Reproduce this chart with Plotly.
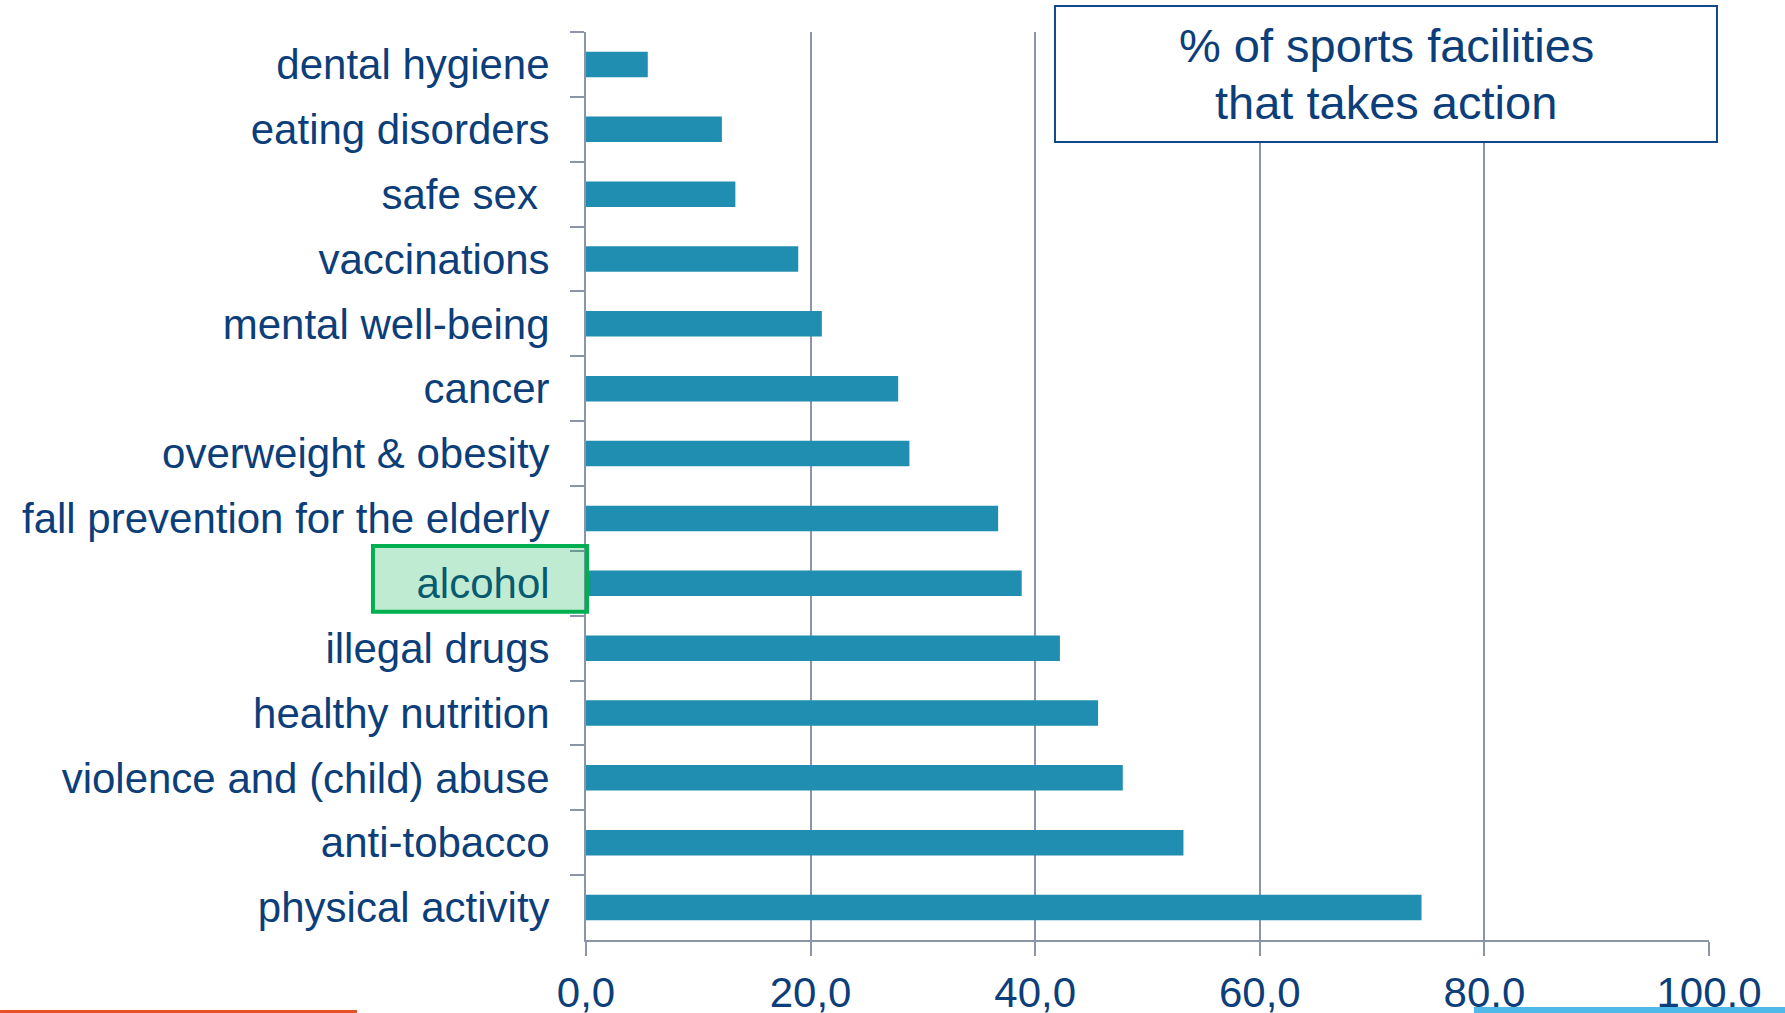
import plotly.graph_objects as go

# Health topics, listed top to bottom as shown on the chart
topics = [
    "dental hygiene",
    "eating disorders",
    "safe sex\u00a0",
    "vaccinations",
    "mental well-being",
    "cancer",
    "overweight & obesity",
    "fall prevention for the elderly",
    "alcohol",
    "illegal drugs",
    "healthy nutrition",
    "violence and (child) abuse",
    "anti-tobacco",
    "physical activity",
]
# Share of sports facilities that take action on each topic (%)
share_pct = [5.5, 12.1, 13.3, 18.9, 21.0, 27.8, 28.8, 36.7, 38.8, 42.2, 45.6, 47.8, 53.2, 74.4]

x_ticks = [0, 20, 40, 60, 80, 100]
highlight_topic = "alcohol"
title_lines = ["% of sports facilities", "that takes action"]

NAVY = "#0C3E7A"
GRID = "#8C94A8"
BAR = "#1F8EB0"
FONT = "Arial, 'Liberation Sans', sans-serif"

fig = go.Figure(
    go.Bar(
        x=share_pct,
        y=topics,
        orientation="h",
        marker=dict(color=BAR, line=dict(width=0)),
        hoverinfo="skip",
    )
)

fig.update_layout(
    width=1785,
    height=1013,
    margin=dict(l=586, r=76, t=32, b=73, autoexpand=False),
    paper_bgcolor="white",
    plot_bgcolor="white",
    bargap=0.607,
    separators=",.",
    showlegend=False,
    font=dict(family=FONT, color=NAVY, size=42),
)

fig.update_xaxes(
    range=[0, 100],
    tickvals=x_ticks,
    tickformat=".1f",
    automargin=False,
    showgrid=True,
    gridcolor=GRID,
    gridwidth=2,
    zeroline=False,
    showline=True,
    linecolor=GRID,
    linewidth=2,
    ticks="outside",
    ticklen=14,
    tickwidth=2,
    tickcolor=GRID,
    tickfont=dict(size=42, color=NAVY),
    ticklabelstandoff=1,
)

fig.update_yaxes(
    type="category",
    categoryorder="array",
    categoryarray=topics,
    autorange="reversed",
    automargin=False,
    showgrid=False,
    zeroline=False,
    showline=True,
    linecolor=GRID,
    linewidth=2,
    ticks="outside",
    tickson="boundaries",
    ticklen=14,
    tickwidth=2,
    tickcolor=GRID,
    tickfont=dict(size=42, color=NAVY),
    ticklabelstandoff=26,
)

# Title box in the upper right corner
fig.add_shape(
    type="rect", xref="paper", yref="paper",
    x0=0.4176, x1=1.0071, y0=0.8789, y1=1.0286,
    fillcolor="white", line=dict(color="#124889", width=2), layer="above",
)
for line_text, y_pos in zip(title_lines, [0.9851, 0.9224]):
    fig.add_annotation(
        xref="paper", yref="paper", x=0.7124, y=y_pos,
        text=line_text,
        showarrow=False, xanchor="center", yanchor="middle",
        font=dict(family=FONT, size=47, color=NAVY),
    )

# Translucent green highlight over the alcohol label
idx = topics.index(highlight_topic)
fig.add_shape(
    type="rect", xref="paper", yref="y",
    x0=-0.1897, x1=0.0009, y0=idx - 0.575, y1=idx + 0.44,
    fillcolor="rgba(0,176,80,0.25)", line=dict(color="#00B050", width=4),
    layer="above",
)

# Accent strips along the bottom edge
fig.add_shape(
    type="rect", xref="paper", yref="paper",
    x0=-0.5218, x1=-0.2039, y0=-0.0804, y1=-0.0771,
    fillcolor="#E8502A", line=dict(width=0), layer="above",
)
fig.add_shape(
    type="rect", xref="paper", yref="paper",
    x0=0.7907, x1=1.07, y0=-0.0804, y1=-0.0738,
    fillcolor="#4FB9E9", line=dict(width=0), layer="above",
)

fig.write_html("out.html")
